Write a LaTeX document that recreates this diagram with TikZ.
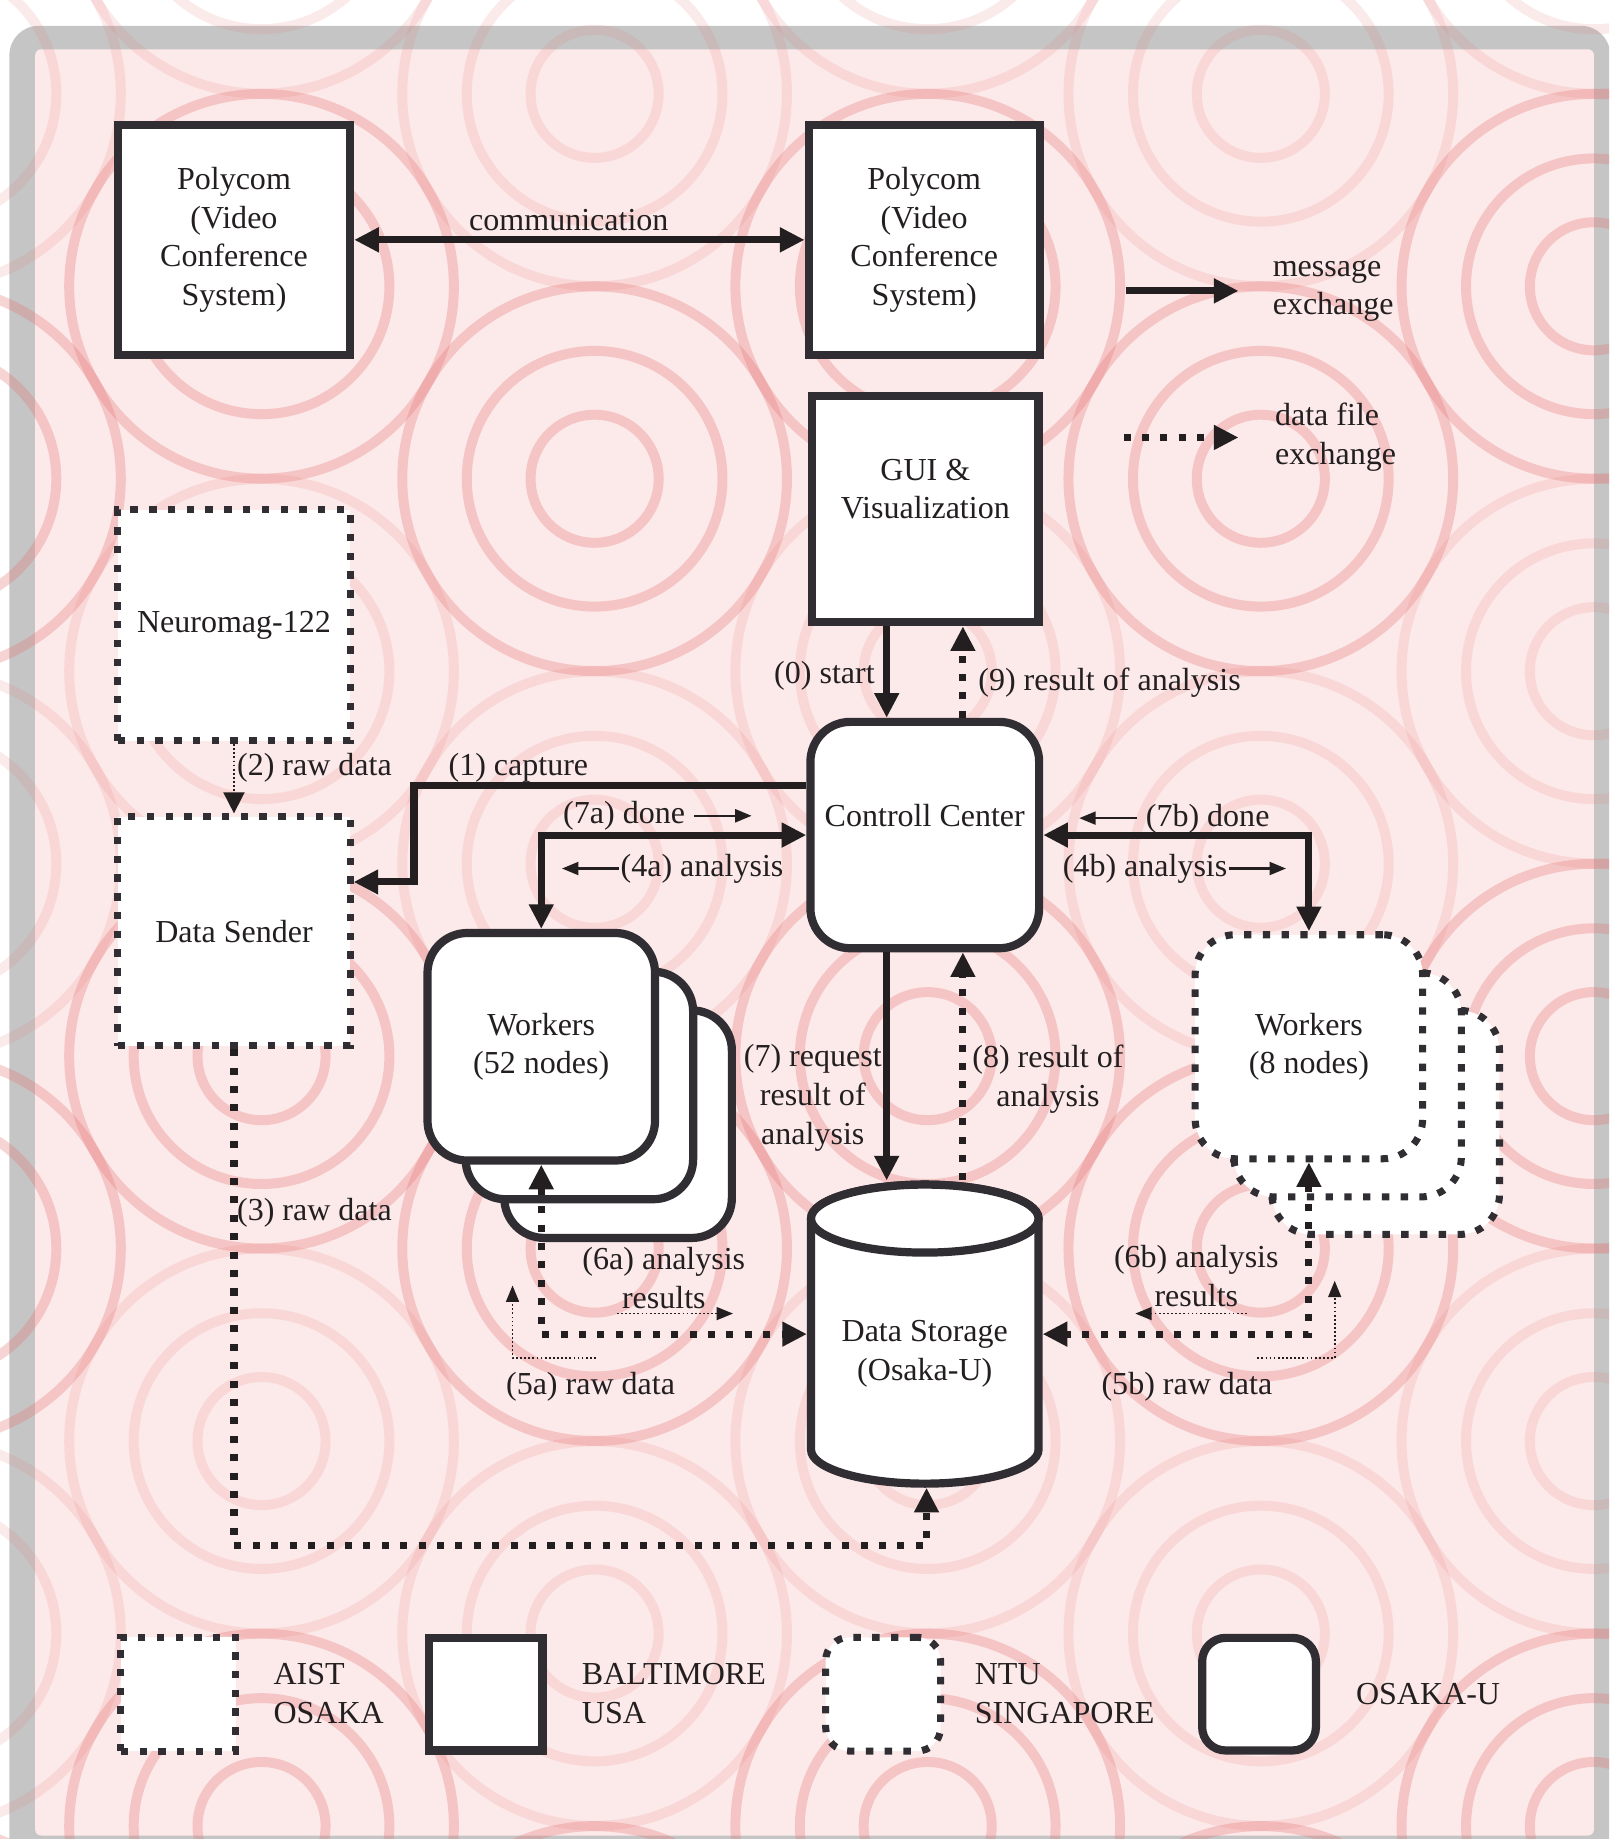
\documentclass[tikz,border=0pt]{standalone}
\usepackage{fontspec}
\setmainfont{Liberation Serif}
\usetikzlibrary{arrows.meta}
\definecolor{boxc}{RGB}{48,46,51}
\definecolor{arrc}{RGB}{35,31,32}
\definecolor{txtc}{RGB}{35,31,32}
\definecolor{bgpink}{RGB}{252,233,233}
\definecolor{framegray}{RGB}{197,197,197}
\definecolor{ringc}{RGB}{232,118,118}
\newcommand\mfont{\fontsize{27.3}{33}\selectfont}
\newcommand\rarr{\tikz[baseline=-7pt]\draw[draw=arrc,line width=2pt,-{Triangle[length=14pt,width=11pt]}] (0pt,0pt)--(49pt,0pt);}
\newcommand\larr{\tikz[baseline=-7pt]\draw[draw=arrc,line width=2pt,{Triangle[length=14pt,width=11pt]}-] (0pt,0pt)--(49pt,0pt);}
\begin{document}
\begin{tikzpicture}[x=1pt,y=-1pt,>={Triangle[length=21pt,width=20pt]},
 box/.style={rectangle,draw=boxc,line width=7pt,fill=white,inner sep=0pt,align=center,font=\mfont,text=txtc},
 dbox/.style={box,line width=6pt,dash pattern=on 6.3pt off 9.7pt},
 rbox/.style={box,rounded corners=34pt},
 drbox/.style={dbox,rounded corners=34pt},
 lab/.style={inner sep=0pt,font=\mfont,text=txtc},
 msg/.style={draw=arrc,line width=6pt,->},
 msgb/.style={draw=arrc,line width=6pt,<->},
 dat/.style={draw=arrc,line width=6pt,dash pattern=on 6pt off 9.7pt,->},
 datb/.style={draw=arrc,line width=6pt,dash pattern=on 6pt off 9.7pt,<->},
 tdat/.style={draw=arrc,line width=1.5pt,dash pattern=on 1.5pt off 2pt},
 ring/.style={draw=ringc,line width=8.5pt},
 cyl/.style={draw=boxc,line width=7pt,fill=white}]
\useasboundingbox (0,0) rectangle (1372,1568);
\fill[white] (0,0) rectangle (1372,1568);
% background frame and rings
\begin{scope}
\clip (0,0) rectangle (1372,1568);
\fill[framegray,rounded corners=25pt] (8,22) rectangle (1373,1620);
\fill[bgpink,rounded corners=5pt] (30,42) rectangle (1359,1565);
\foreach \c in {0,...,5}{
  \foreach \r in {-1,...,10}{
    \pgfmathtruncatemacro\pp{mod(\c+\r+2,2)}
    \ifnum\pp=0
      \pgfmathtruncatemacro\mm{mod(\r+4,4)}
      \ifnum\mm=1 \def\op{0.31}\else\ifnum\mm=2 \def\op{0.31}\else\def\op{0.15}\fi\fi
      \draw[ring,opacity=\op] (-61+284*\c,80+164.1*\r) circle[radius=54.6pt] circle[radius=109pt] circle[radius=164pt];
    \fi
  }
}
\end{scope}
% boxes
\node[box,minimum width=198pt,minimum height=196pt] (pcL) at (199.5,204.5) {Polycom\\(Video\\Conference\\System)};
\node[box,minimum width=197pt,minimum height=196pt] (pcR) at (788,204.5) {Polycom\\(Video\\Conference\\System)};
\node[box,minimum width=193pt,minimum height=193pt,label={[lab,align=center,yshift=17pt]center:{GUI \&\\Visualization}}] (gui) at (789,434) {};
\node[dbox,minimum width=198pt,minimum height=197pt] (neuro) at (199.5,533) {Neuromag-122};
\node[dbox,minimum width=198pt,minimum height=195pt] (dsend) at (199.5,794) {Data Sender};
\node[rbox,minimum width=195pt,minimum height=193pt,label={[lab,yshift=17pt]center:Controll Center}] (cc) at (788.5,712) {};
\node[rbox,minimum width=194pt,minimum height=194pt] (w52c) at (527,958.5) {};
\node[rbox,minimum width=194pt,minimum height=194pt] (w52b) at (494,925.5) {};
\node[rbox,minimum width=194pt,minimum height=194pt] (w52) at (461.5,892.5) {Workers\\(52 nodes)};
\node[drbox,minimum width=194pt,minimum height=191pt] (w8c) at (1181.5,957) {};
\node[drbox,minimum width=194pt,minimum height=191pt] (w8b) at (1149,925) {};
\node[drbox,minimum width=194pt,minimum height=191pt] (w8) at (1116,892.5) {Workers\\(8 nodes)};
% data storage cylinder
\filldraw[cyl] (691.5,1039) -- (691.5,1236) arc[start angle=180,end angle=360,x radius=97pt,y radius=29pt] -- (885.5,1039) arc[start angle=0,end angle=180,x radius=97pt,y radius=29pt] -- cycle;
\draw[cyl] (788.5,1039) ellipse[x radius=97pt,y radius=29pt];
\node[rectangle,inner sep=0pt,outer sep=0pt,minimum width=201pt,minimum height=262pt,label={[lab,align=center,yshift=-17pt]center:{Data Storage\\(Osaka-U)}}] (stor) at (788.5,1137.5) {};
% legend boxes
\node[dbox,minimum width=98pt,minimum height=97pt] (lg1) at (152,1444.5) {};
\node[box,minimum width=97pt,minimum height=96pt] (lg2) at (414,1444.5) {};
\node[dbox,rounded corners=20pt,minimum width=98pt,minimum height=97pt] (lg3) at (753,1444.5) {};
\node[box,rounded corners=20pt,minimum width=97pt,minimum height=96pt] (lg4) at (1073.5,1444.5) {};
% connectors
\coordinate (xa) at (756,0);
\coordinate (xb) at (821,0);
\draw[msgb] (pcL.east) -- (pcR.west);
\draw[msg] (xa |- gui.south) -- (xa |- cc.north);
\draw[dat] (xb |- cc.north) -- (xb |- gui.south);
\coordinate (c1a) at (353,670);
\coordinate (c1b) at (353,752);
\draw[msg] (cc.west |- c1a) -- (c1a) -- (c1b) -- (dsend.east |- c1b);
\draw[msgb] (cc.west) -| (w52.north);
\draw[msgb] (cc.east) -| (w8.north);
\draw[msg] (xa |- cc.south) -- (xa |- stor.north);
\draw[dat] (xb |- stor.north) -- (xb |- cc.south);
\draw[tdat,-{Triangle[length=18pt,width=18pt]}] (neuro.south) -- (dsend.north);
\coordinate (c3) at (790,1318);
\draw[dat] (dsend.south) |- (c3) -- (c3 |- stor.south);
\draw[datb] (w52.south) |- (stor.west);
\draw[datb] (w8.south) |- (stor.east);
% legend arrows
\coordinate (lm1) at (960,248);
\coordinate (lm2) at (1056,248);
\draw[msg] (lm1) -- (lm2);
\coordinate (ld1) at (958,373);
\coordinate (ld2) at (1056,373);
\draw[dat] (ld1) -- (ld2);
% small dotted arrows
\coordinate (s6a1) at (526,1120);
\coordinate (s6a2) at (625,1120);
\draw[tdat,-{Triangle[length=14pt,width=11pt]}] (s6a1) -- (s6a2);
\coordinate (s5a1) at (508,1158);
\coordinate (s5a2) at (437,1158);
\coordinate (s5a3) at (437,1096);
\draw[tdat,-{Triangle[length=14pt,width=11pt]}] (s5a1) -- (s5a2) -- (s5a3);
\coordinate (s6b1) at (1063,1120);
\coordinate (s6b2) at (968,1120);
\draw[tdat,-{Triangle[length=14pt,width=11pt]}] (s6b1) -- (s6b2);
\coordinate (s5b1) at (1072,1158);
\coordinate (s5b2) at (1138,1158);
\coordinate (s5b3) at (1138,1092);
\draw[tdat,-{Triangle[length=14pt,width=11pt]}] (s5b1) -- (s5b2) -- (s5b3);
% labels
\node[lab] (tcomm) at (485,188) {communication};
\node[lab,anchor=west,align=left] (tmsg) at (1085,248) {message\\exchange};
\node[lab,anchor=west,align=left] (tdf) at (1087,372.5) {data file\\exchange};
\node[lab,anchor=east] (t0) at (746,576) {(0) start};
\node[lab,anchor=west] (t9) at (834,582) {(9) result of analysis};
\node[lab] (t1) at (442,655) {(1) capture};
\node[lab,anchor=west] (t2) at (202,655) {(2) raw data};
\node[lab,anchor=west] (t7a) at (480,696) {(7a) done \rarr};
\node[lab,anchor=west] (t4a) at (478,741) {\larr(4a) analysis};
\node[lab,anchor=west] (t7b) at (919,698) {\larr\ (7b) done};
\node[lab,anchor=west] (t4b) at (906,741) {(4b) analysis\rarr};
\node[lab,align=center] (t7) at (693,936) {(7) request\\result of\\analysis};
\node[lab,align=center] (t8) at (893.5,920) {(8) result of\\analysis};
\node[lab,anchor=west] (t3) at (202,1034) {(3) raw data};
\node[lab,align=center] (t6a) at (566,1089.5) {(6a) analysis\\results};
\node[lab] (t5a) at (503.5,1182) {(5a) raw data};
\node[lab,align=center] (t6b) at (1020,1088) {(6b) analysis\\results};
\node[lab] (t5b) at (1012,1182) {(5b) raw data};
\node[lab,anchor=west,align=left] (tl1) at (233,1444) {AIST\\OSAKA};
\node[lab,anchor=west,align=left] (tl2) at (496,1444) {BALTIMORE\\USA};
\node[lab,anchor=west,align=left] (tl3) at (831,1444) {NTU\\SINGAPORE};
\node[lab,anchor=west] (tl4) at (1156,1444) {OSAKA-U};
\end{tikzpicture}
\end{document}
